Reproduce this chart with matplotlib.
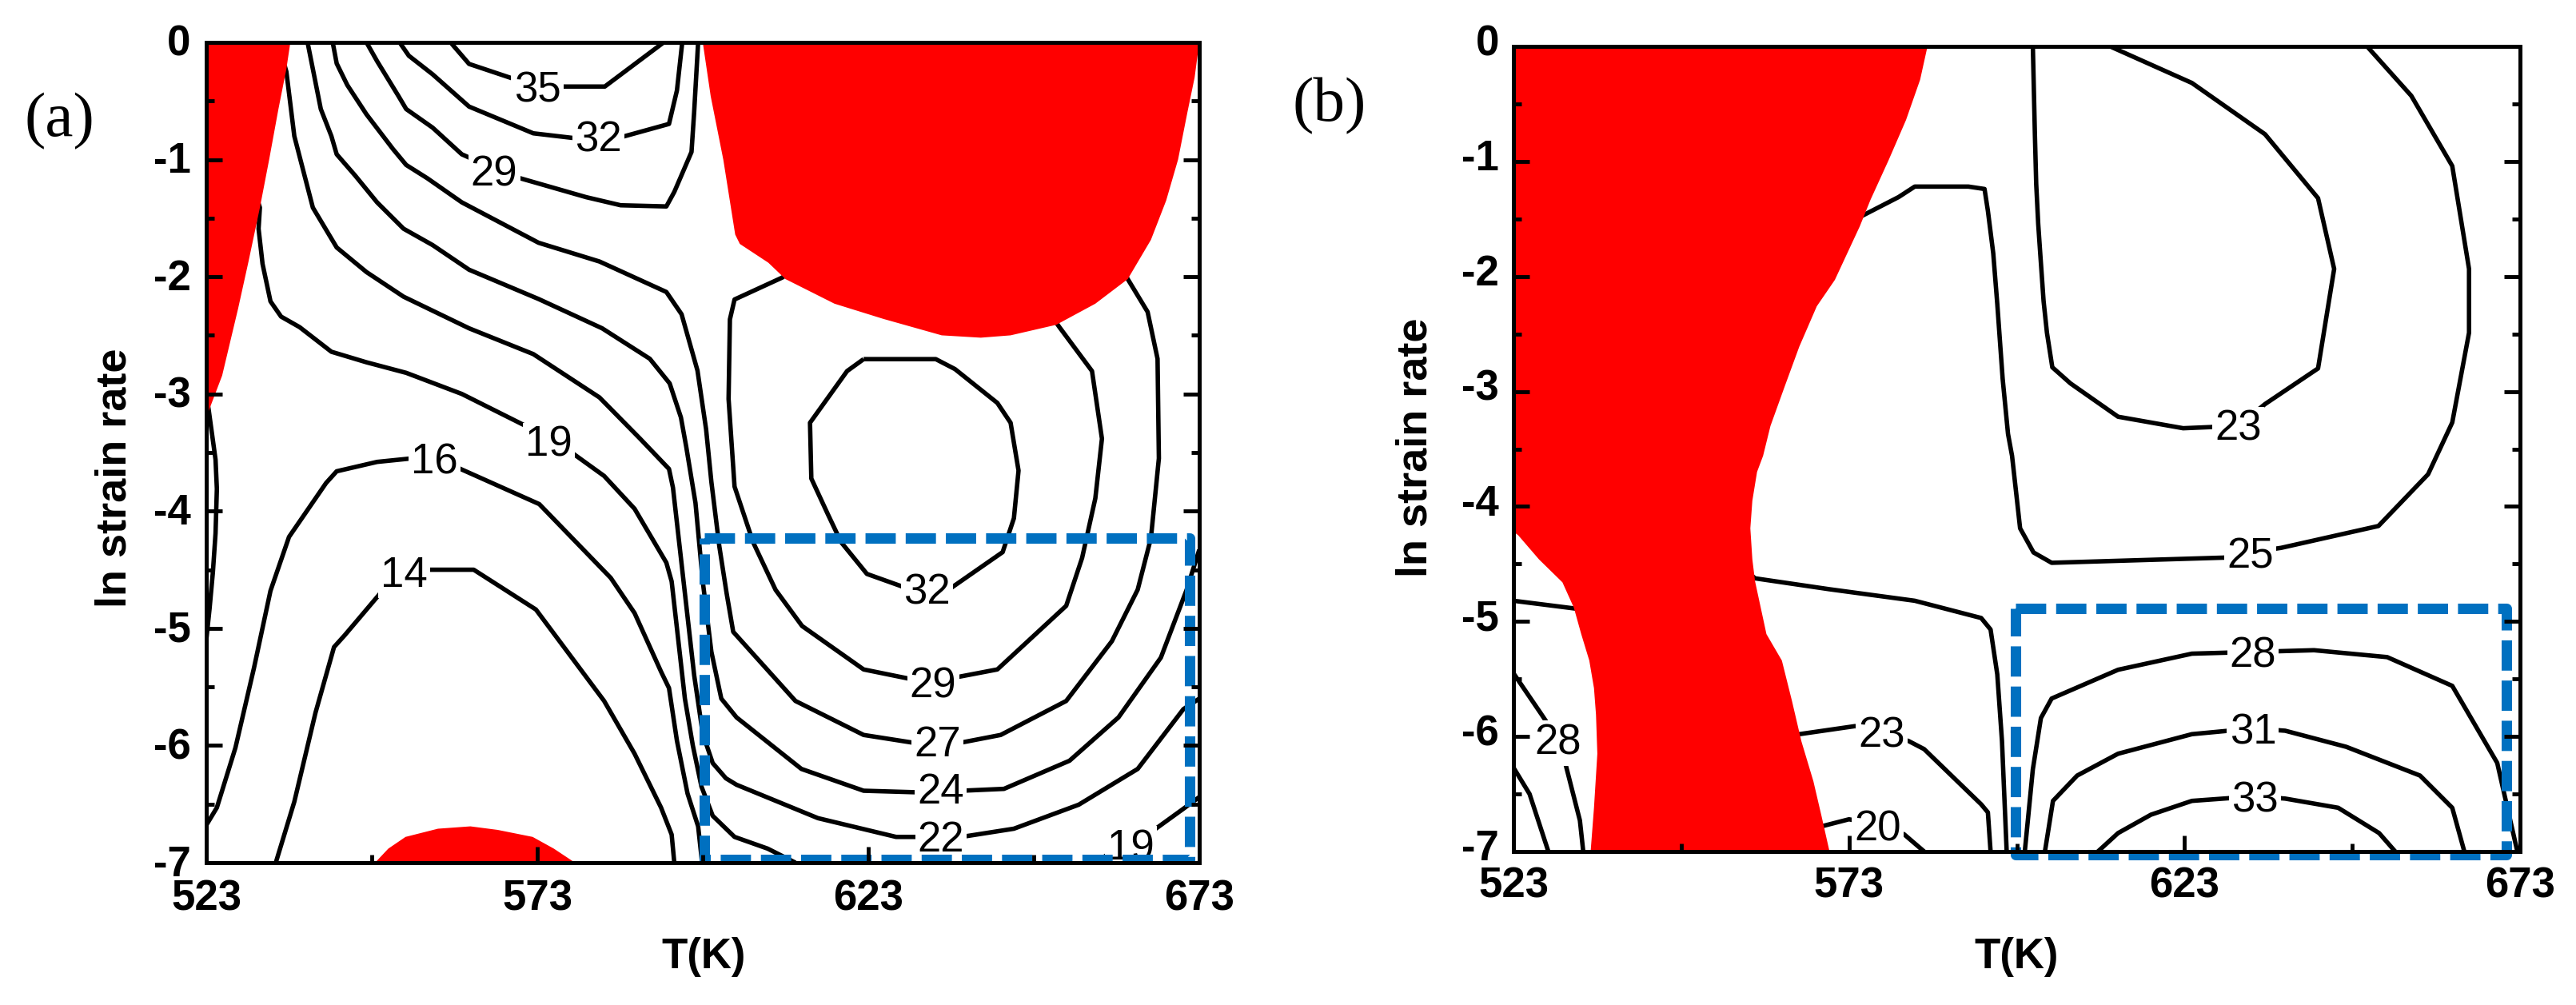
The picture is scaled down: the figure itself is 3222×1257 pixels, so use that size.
import matplotlib
matplotlib.use('Agg')
import matplotlib.pyplot as plt
from matplotlib import font_manager
from matplotlib.transforms import ScaledTranslation

# ---------------- axes data ----------------
x_major = [523, 573, 623, 673]
x_minor = [548, 598, 648]
x_labels = ['523', '573', '623', '673']
y_major = [0, -1, -2, -3, -4, -5, -6, -7]
y_minor = [-0.5, -1.5, -2.5, -3.5, -4.5, -5.5, -6.5]
y_labels = ['0', '-1', '-2', '-3', '-4', '-5', '-6', '-7']

# ---------------- panel (a) ----------------
a_red_left = [(523, 0), (535.7, 0), (535.1, -0.227), (533.9, -0.569), (532.5, -1.0), (531.1, -1.41),
              (529.4, -1.865), (527.8, -2.274), (525.4, -2.843), (523.4, -3.14), (523, -3.2)]
a_red_top = [(598.0, 0), (599.2, -0.46), (601.1, -1.0), (602.9, -1.64), (603.6, -1.72), (607.9, -1.88),
             (610.5, -2.02), (617.9, -2.23), (625.3, -2.36), (634.1, -2.50), (640, -2.52), (644.5, -2.50),
             (651.4, -2.41), (657.3, -2.23), (662.2, -2.02), (665.7, -1.685), (668, -1.35), (669.8, -1.0),
             (671.2, -0.6), (672.3, -0.3), (673, 0)]
a_red_bottom = [(548.5, -7), (550.5, -6.88), (553.1, -6.78), (558, -6.71), (562.9, -6.69), (567, -6.72),
                (572.3, -6.78), (575.5, -6.88), (578.7, -7.0)]

a_c35 = [(559.9, 0), (562.7, -0.184), (569.9, -0.32), (573, -0.377), (576.0, -0.377), (583.2, -0.377), (592.1, 0)]
a_c32 = [(552.2, 0), (553.6, -0.114), (557.2, -0.273), (562.7, -0.548), (572.4, -0.776), (579.2, -0.821),
         (585.6, -0.81), (592.9, -0.696), (594.1, -0.41), (594.9, 0)]
a_c29 = [(547.2, 0), (548.8, -0.16), (552.0, -0.455), (553.2, -0.569), (557.2, -0.728), (561.6, -0.955),
         (563.5, -1.003), (569.9, -1.151), (580.4, -1.321), (585.6, -1.39), (592.5, -1.40), (593.7, -1.276),
         (596.3, -0.935), (596.7, -0.594), (597.3, 0)]
a_c27 = [(542.1, 0), (542.7, -0.18), (544.3, -0.364), (547.2, -0.614), (551.2, -0.91), (553.2, -1.046),
         (556.4, -1.16), (561.6, -1.365), (573.2, -1.71), (582.4, -1.87), (592.5, -2.13), (594.8, -2.32),
         (597.2, -2.8), (598.5, -3.3), (599.3, -3.75), (600.5, -4.3), (601.6, -4.7), (602.6, -5.03),
         (612.0, -5.62), (622.3, -5.91), (630.2, -5.98), (636.6, -5.98), (643.0, -5.91), (652.9, -5.62),
         (659.8, -5.11), (663.7, -4.67), (665.7, -4.23), (666.9, -3.55), (666.7, -2.70), (665.2, -2.30),
         (662.2, -2.02), (661.5, -1.95)]
a_c24 = [(538.3, 0), (539.1, -0.227), (540.3, -0.569), (541.9, -0.80), (542.7, -0.955), (545.5, -1.137),
         (548.8, -1.365), (552.8, -1.59), (557.2, -1.73), (562.7, -1.94), (573.2, -2.19), (582.8, -2.44),
         (590.0, -2.70), (593.0, -2.91), (594.7, -3.2), (595.5, -3.45), (596.9, -3.93), (598.0, -4.6),
         (599.3, -5.2), (600.8, -5.6), (603.1, -5.76), (612.9, -6.20), (622.3, -6.386), (630.7, -6.40),
         (637.1, -6.386), (643.5, -6.37), (653.4, -6.13), (660.8, -5.76), (667.2, -5.25), (671.1, -4.67),
         (673, -4.33)]
a_c22 = [(534.6, -0.15), (535.1, -0.25), (536.3, -0.80), (539.1, -1.41), (542.7, -1.75), (547.2, -1.96),
         (552.8, -2.17), (562.7, -2.44), (572.4, -2.66), (582.4, -3.03), (588.5, -3.38), (592.9, -3.64),
         (593.5, -3.8), (594.3, -4.2), (595.5, -4.8), (596.7, -5.4), (598.0, -5.9), (599.5, -6.15),
         (601.5, -6.28), (603.1, -6.335), (615.4, -6.62), (627.2, -6.78), (634.0, -6.78), (637.1, -6.78),
         (645.0, -6.71), (654.8, -6.505), (663.7, -6.20), (670.6, -5.69), (673, -5.6)]
a_c19 = [(530.5, -1.3), (531.1, -1.41), (530.9, -1.59), (531.5, -1.89), (532.7, -2.21), (534.3, -2.34),
         (537.1, -2.43), (541.9, -2.64), (547.2, -2.73), (553.2, -2.82), (561.6, -3.0), (571.5, -3.28),
         (577.7, -3.48), (583.1, -3.70), (587.7, -3.98), (592.5, -4.44), (593.3, -4.6), (594.3, -5.1),
         (595.3, -5.6), (596.5, -6.0), (597.8, -6.35), (599.5, -6.6), (602.8, -6.78), (607.8, -6.88),
         (612, -7.0)]
a_c19_edge = [(523, -3.0), (523.4, -3.15), (524.4, -3.56), (524.6, -3.81), (524.4, -4.19), (524.0, -4.52),
              (523.5, -4.83), (523, -5.1)]
a_c19_right = [(657.5, -7.0), (661, -6.85), (665.7, -6.74), (670.6, -6.54), (673, -6.44)]
a_c16 = [(523, -6.68), (524.6, -6.53), (527.4, -6.02), (530.2, -5.34), (532.7, -4.68), (535.5, -4.22),
         (541.1, -3.76), (542.7, -3.66), (548.8, -3.58), (557.5, -3.53), (561.4, -3.64), (573.3, -3.94),
         (584.1, -4.57), (587.7, -4.87), (591.7, -5.37), (592.9, -5.51), (594.1, -5.96), (595.7, -6.41),
         (597.3, -6.69), (597.9, -7.0)]
a_c14 = [(533.5, -7.0), (536.3, -6.48), (539.5, -5.72), (542.3, -5.16), (543.9, -5.06), (549.6, -4.68),
         (553.0, -4.50), (556.0, -4.50), (563.4, -4.50), (572.8, -4.84), (583.1, -5.62), (587.7, -6.07),
         (591.7, -6.53), (593.3, -6.76), (593.7, -7.0)]
a_c32r = [(622.3, -2.703), (633.2, -2.703), (636.1, -2.788), (642.5, -3.077), (644.5, -3.246), (645.7, -3.654),
          (645.0, -4.061), (643.3, -4.35), (635.1, -4.672), (631.9, -4.69), (628.7, -4.655), (622.8, -4.536),
          (618.9, -4.265), (616.9, -4.027), (614.4, -3.722), (614.2, -3.246), (619.8, -2.805), (622.3, -2.703)]
a_c29r = [(611.5, -1.95), (610.0, -2.007), (602.8, -2.194), (602.1, -2.364), (601.9, -3.043), (602.8, -3.79),
          (605.6, -4.265), (609.0, -4.672), (613.0, -4.98), (622.3, -5.351), (629.7, -5.436), (632.7, -5.45),
          (636.1, -5.42), (642.5, -5.351), (652.9, -4.808), (655.3, -4.40), (657.3, -3.891), (658.3, -3.382),
          (656.8, -2.805), (651.9, -2.432), (651.0, -2.36)]
a_label_text = ['35', '32', '29', '19', '16', '14', '32', '29', '27', '24', '22', '19']
a_label_T = [573.0, 582.2, 566.5, 574.7, 557.5, 552.9, 631.9, 632.8, 633.5, 633.9, 634.0, 662.7]
a_label_ln = [-0.377, -0.80, -1.09, -3.40, -3.55, -4.51, -4.66, -5.46, -5.96, -6.36, -6.77, -6.84]
a_box_T = [598.2, 671.6]
a_box_ln = [-4.23, -6.97]

# ---------------- panel (b) ----------------
b_red = [(523, 0), (584.7, 0), (583.6, -0.29), (581.5, -0.64), (578.9, -0.99), (576.2, -1.335), (574.6, -1.566),
         (570.9, -2.03), (568.2, -2.26), (565.6, -2.61), (563.4, -2.96), (561.3, -3.30), (560.2, -3.56),
         (559.3, -3.70), (558.6, -3.95), (558.3, -4.19), (558.6, -4.46), (559.0, -4.65), (560.7, -5.11),
         (563.0, -5.34), (564.5, -5.69), (565.9, -6.04), (567.7, -6.39), (568.9, -6.69), (570.1, -7.0),
         (534.5, -7.0), (535.0, -6.62), (535.5, -6.15), (535.3, -5.81), (535.0, -5.58), (534.3, -5.34),
         (533.1, -5.11), (532.0, -4.88), (530.3, -4.66), (526.8, -4.46), (523.7, -4.25), (523, -4.22)]
b_c23 = [(600.4, 0), (600.7, -0.756), (600.9, -1.196), (601.2, -1.545), (601.5, -1.80), (602.0, -2.215),
         (602.5, -2.49), (603.3, -2.79), (606.0, -2.93), (613.1, -3.22), (622.8, -3.32), (631.0, -3.30),
         (635.0, -3.11), (642.9, -2.80), (645.3, -1.935), (642.9, -1.32), (635.0, -0.764), (624.1, -0.318),
         (611.9, 0)]
b_c25 = [(574.0, -1.40), (574.9, -1.475), (580.4, -1.31), (582.8, -1.219), (590.8, -1.219), (593.2, -1.24),
         (593.7, -1.43), (594.5, -1.80), (595.1, -2.24), (595.9, -2.89), (596.7, -3.37), (597.3, -3.56),
         (598.5, -4.19), (600.5, -4.4), (603.2, -4.49), (628.9, -4.445), (632.8, -4.40), (637.4, -4.36),
         (651.9, -4.17), (659.3, -3.72), (662.9, -3.27), (665.4, -2.49), (665.4, -1.935), (662.9, -1.04),
         (656.8, -0.43), (650.2, 0)]
b_c25_left = [(523, -4.82), (532.5, -4.89)]
b_c25_mid = [(558.5, -4.60), (559.0, -4.625), (570.1, -4.72), (582.8, -4.82), (592.7, -4.97), (594.1, -5.07),
             (595.1, -5.46), (595.8, -6.04), (596.5, -7.0)]
b_c23_low = [(565.0, -6.0), (565.6, -5.98), (573.9, -5.91), (577.9, -5.96), (581.9, -6.04), (584.2, -6.11),
             (592.7, -6.59), (593.7, -6.66), (594.1, -7.0)]
b_c20 = [(569.0, -6.78), (573.0, -6.72), (577.3, -6.77), (581.2, -6.85), (584.2, -7.0)]
b_c28_left = [(523, -5.45), (523.7, -5.51), (527.2, -5.81), (529.6, -6.02), (530.8, -6.25), (532.9, -6.73),
              (533.4, -7.0)]
b_c_corner = [(523, -6.27), (525.4, -6.50), (528.2, -7.0)]
b_c28 = [(599.2, -7.0), (600.4, -6.285), (601.6, -5.84), (603.2, -5.67), (613.1, -5.42), (624.1, -5.28),
         (633.2, -5.265), (642.3, -5.25), (653.2, -5.31), (662.9, -5.56), (669.6, -6.23), (672.6, -7.0)]
b_c31 = [(602.2, -7.0), (603.4, -6.56), (607.0, -6.34), (613.1, -6.15), (624.1, -5.98), (633.2, -5.93),
         (638.0, -5.95), (647.1, -6.09), (658.1, -6.34), (662.9, -6.62), (664.7, -7.0)]
b_c33 = [(610.1, -7.0), (613.1, -6.84), (618.0, -6.68), (624.1, -6.56), (633.5, -6.52), (638.0, -6.54),
         (645.9, -6.62), (652.0, -6.84), (654.4, -7.0)]
b_label_text = ['23', '25', '28', '23', '20', '28', '31', '33']
b_label_T = [631.0, 632.8, 529.6, 577.9, 577.3, 633.2, 633.2, 633.5]
b_label_ln = [-3.29, -4.40, -6.02, -5.96, -6.77, -5.265, -5.93, -6.52]
b_box_T = [597.8, 671.0]
b_box_ln = [-4.89, -7.03]

# ---------------- drawing ----------------
W, H = 3222, 1257
fig = plt.figure(figsize=(W / 100, H / 100), dpi=100)

names = {f.name for f in font_manager.fontManager.ttflist}
narrow = 'Liberation Sans Narrow' if 'Liberation Sans Narrow' in names else 'Liberation Sans'
sans = 'Liberation Sans'
serif = 'Liberation Serif'


def px_rect(l, r, t, b):
    return [l / W, 1 - b / H, (r - l) / W, (b - t) / H]


ax_a = fig.add_axes(px_rect(258, 1500, 53, 1079))
ax_b = fig.add_axes(px_rect(1893, 3152, 58, 1065))


def setup(ax, xpad, ypad, ydy):
    ax.set_xlim(523, 673)
    ax.set_ylim(-7, 0)
    ax.set_xticks(x_major)
    ax.set_xticks(x_minor, minor=True)
    ax.set_xticklabels(x_labels)
    ax.set_yticks(y_major)
    ax.set_yticks(y_minor, minor=True)
    ax.set_yticklabels(y_labels)
    ax.tick_params(which='both', direction='in', top=False, right=True, labelright=False, width=3.5,
                   color='black')
    ax.tick_params(which='major', length=14.4)
    ax.tick_params(which='minor', length=7.2)
    ax.tick_params(axis='x', which='major', pad=xpad)
    ax.tick_params(axis='y', which='major', pad=ypad)
    for lab in ax.get_xticklabels() + ax.get_yticklabels():
        lab.set_fontfamily(narrow)
        lab.set_fontweight('bold')
        lab.set_fontsize(38)
    off = ScaledTranslation(0, ydy / 72, fig.dpi_scale_trans)
    for lab in ax.get_yticklabels():
        lab.set_transform(lab.get_transform() + off)
    for s in ax.spines.values():
        s.set_linewidth(3.6)
        s.set_zorder(2.6)
    ax.set_axisbelow(False)


def draw_line(ax, pts):
    T, L = zip(*pts)
    ax.plot(T, L, color='black', lw=4.0, zorder=1.1, solid_capstyle='butt')


def draw_red(ax, pts):
    T, L = zip(*pts)
    ax.fill(T, L, color='#FF0000', lw=0, zorder=1.2)


def draw_labels(ax, texts, Ts, Ls):
    for s, t, l in zip(texts, Ts, Ls):
        ax.text(t, l, s, ha='center', va='center_baseline', fontsize=38, family=narrow, zorder=1.3,
                bbox=dict(boxstyle='square,pad=0.06', fc='white', ec='none'))


def draw_box(ax, bT, bL):
    T0, T1 = bT
    L0, L1 = bL
    ax.plot([T0, T1, T1, T0, T0], [L0, L0, L1, L1, L0], color='#0070C0', lw=9.4,
            ls=(0, (2.9, 0.95)), dash_capstyle='butt', clip_on=False, zorder=2.4)


setup(ax_a, 15, 14, 2)
setup(ax_b, 13, 13, 6)

for pts in [a_c35, a_c32, a_c29, a_c27, a_c24, a_c22, a_c19, a_c19_edge, a_c19_right, a_c16, a_c14,
            a_c32r, a_c29r]:
    draw_line(ax_a, pts)
for pts in [a_red_left, a_red_top, a_red_bottom]:
    draw_red(ax_a, pts)
draw_labels(ax_a, a_label_text, a_label_T, a_label_ln)
draw_box(ax_a, a_box_T, a_box_ln)

for pts in [b_c23, b_c25, b_c25_left, b_c25_mid, b_c23_low, b_c20, b_c28_left, b_c_corner, b_c28, b_c31, b_c33]:
    draw_line(ax_b, pts)
draw_red(ax_b, b_red)
draw_labels(ax_b, b_label_text, b_label_T, b_label_ln)
draw_box(ax_b, b_box_T, b_box_ln)

# figure texts
fig.text(74 / W, 1 - 152 / H, '(a)', fontsize=57, family=serif, ha='center', va='center')
fig.text(1663 / W, 1 - 133 / H, '(b)', fontsize=57, family=serif, ha='center', va='center')
fig.text(143 / W, 1 - 598 / H, 'ln strain rate', rotation=90, fontsize=39, weight='bold', family=sans,
         ha='center', va='center')
fig.text(1771 / W, 1 - 560 / H, 'ln strain rate', rotation=90, fontsize=39, weight='bold', family=sans,
         ha='center', va='center')
fig.text(880 / W, 1 - 1197 / H, 'T(K)', fontsize=38, weight='bold', family=sans, ha='center', va='center')
fig.text(2522 / W, 1 - 1197 / H, 'T(K)', fontsize=38, weight='bold', family=sans, ha='center', va='center')

fig.savefig('out.png', dpi=100)
